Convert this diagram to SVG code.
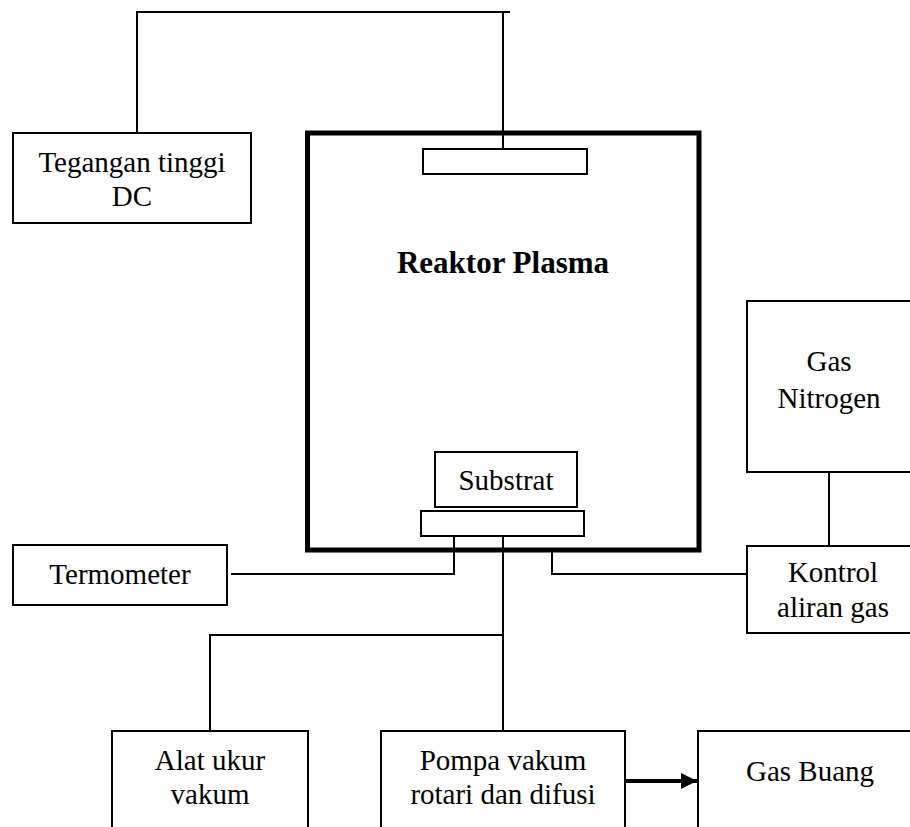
<svg xmlns="http://www.w3.org/2000/svg" width="910" height="827" viewBox="0 0 910 827">
<defs>
<style>
.box{fill:#fff;stroke:#000;stroke-width:2}
.wire{fill:none;stroke:#000;stroke-width:2}
.t{font-family:"Liberation Serif","Times New Roman",serif;font-size:29px;fill:#000;text-anchor:middle}
.b{font-weight:bold;font-size:31px}
</style>
<marker id="arr" viewBox="0 0 10 10" refX="10" refY="5" markerWidth="18" markerHeight="16" markerUnits="userSpaceOnUse" orient="auto">
<path d="M0,0 L10,5 L0,10 z" fill="#000"/>
</marker>
</defs>
<rect width="910" height="827" fill="#fff"/>
<g id="connectors">
<path class="wire" d="M137,133 V12 H510 M503,12 V149"/>
<path class="wire" d="M454,527 V574 H231"/>
<path class="wire" d="M552,552 V574 H747"/>
<path class="wire" d="M829,472 V546"/>
<path class="wire" d="M503,536 V731 M503,635 H210 V731"/>
<path d="M625,781 H697" fill="none" stroke="#000" stroke-width="4" marker-end="url(#arr)"/>
</g>
<g id="reaktor">
<rect x="307.5" y="133" width="391.5" height="417" fill="none" stroke="#000" stroke-width="5"/>
<text class="t b" x="503" y="273">Reaktor Plasma</text>
</g>
<g id="elektroda-atas">
<rect class="box" x="423" y="149" width="164" height="25"/>
</g>
<g id="substrat">
<rect class="box" x="435" y="452" width="142" height="55"/>
<text class="t" x="506" y="490">Substrat</text>
</g>
<g id="elektroda-bawah">
<rect class="box" x="421" y="511" width="163" height="25"/>
</g>
<g id="tegangan">
<rect class="box" x="13" y="133" width="238" height="90"/>
<text class="t" x="132" y="172">Tegangan tinggi</text>
<text class="t" x="132" y="206">DC</text>
</g>
<g id="termometer">
<rect class="box" x="13" y="545" width="214" height="60"/>
<text class="t" x="120" y="584">Termometer</text>
</g>
<g id="gas-nitrogen">
<rect class="box" x="747" y="301" width="170" height="171"/>
<text class="t" x="829" y="371">Gas</text>
<text class="t" x="829" y="408">Nitrogen</text>
</g>
<g id="kontrol">
<rect class="box" x="747" y="546" width="170" height="87"/>
<text class="t" x="833" y="582">Kontrol</text>
<text class="t" x="833" y="617">aliran gas</text>
</g>
<g id="alat-ukur">
<rect class="box" x="112" y="731" width="196" height="110"/>
<text class="t" x="210" y="770">Alat ukur</text>
<text class="t" x="210" y="804">vakum</text>
</g>
<g id="pompa">
<rect class="box" x="381" y="731" width="244" height="110"/>
<text class="t" x="503" y="770">Pompa vakum</text>
<text class="t" x="503" y="804">rotari dan difusi</text>
</g>
<g id="gas-buang">
<rect class="box" x="698" y="731" width="230" height="110"/>
<text class="t" x="810" y="781">Gas Buang</text>
</g>
</svg>
